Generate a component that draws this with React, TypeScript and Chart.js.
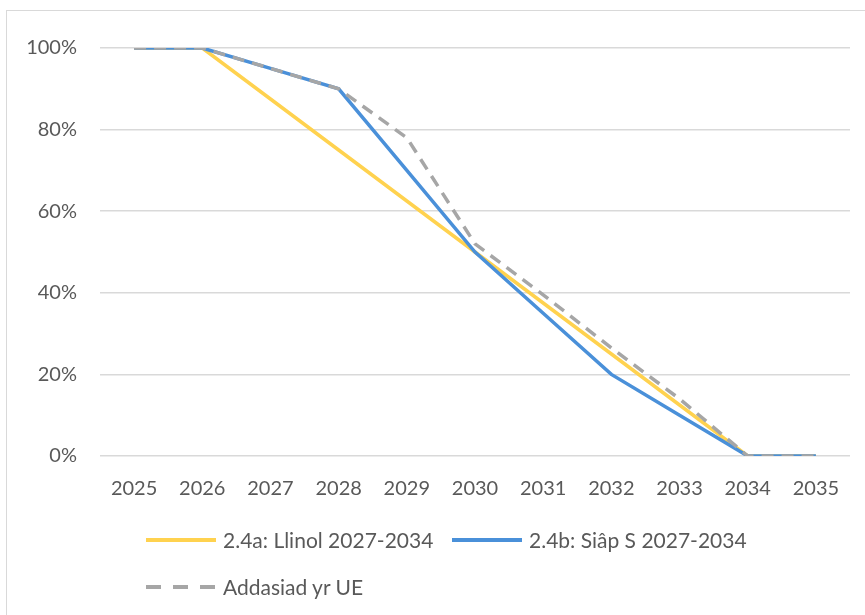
import React, { useEffect, useRef } from "react";
import { Chart, registerables } from "chart.js";

Chart.register(...registerables);

const years = ["2025", "2026", "2027", "2028", "2029", "2030", "2031", "2032", "2033", "2034", "2035"];
const linear = [100, 100, 87.5, 75, 62.5, 50, 37.5, 25, 12.5, 0, 0];
const sShape = [100, 100, 95, 90, 70, 50, 35, 20, 10, 0, 0];
const euAdjust = [100, 100, 95, 90, 78, 52, 39.5, 26.5, 14, 0, 0];
const yTicks = [0, 20, 40, 60, 80, 100];

const labelLinear = "2.4a: Llinol 2027-2034";
const labelS = "2.4b: Siâp S 2027-2034";
const labelEU = "Addasiad yr UE";

const YELLOW = "#FFD24F";
const BLUE = "#4A90D9";
const GRAY = "#A6A6A6";
const TEXT = "#595959";
const FONT = "Lato, 'Open Sans', sans-serif";
const FSIZE = 20;
const LSIZE = 21;

function LegendLine({ color, dashed }: { color: string; dashed?: boolean }) {
  return (
    <svg width={70} height={8} style={{ display: "block" }}>
      <line
        x1={0}
        y1={4}
        x2={70}
        y2={4}
        stroke={color}
        strokeWidth={4}
        strokeDasharray={dashed ? "15 12" : undefined}
      />
    </svg>
  );
}

export default function App() {
  const ref = useRef<HTMLCanvasElement | null>(null);

  useEffect(() => {
    document.body.style.margin = "0";
    const ctx = ref.current!.getContext("2d")!;
    const chart = new Chart(ctx, {
      type: "line",
      data: {
        labels: years,
        datasets: [
          { label: labelLinear, data: linear, borderColor: YELLOW, backgroundColor: YELLOW, borderWidth: 3.5, pointRadius: 0, order: 3, tension: 0 },
          { label: labelS, data: sShape, borderColor: BLUE, backgroundColor: BLUE, borderWidth: 3.5, pointRadius: 0, order: 2, tension: 0 },
          { label: labelEU, data: euAdjust, borderColor: GRAY, backgroundColor: GRAY, borderWidth: 3.5, borderDash: [12, 8], pointRadius: 0, order: 1, tension: 0 },
        ],
      },
      options: {
        animation: false,
        responsive: false,
        maintainAspectRatio: false,
        layout: { padding: { left: 0, right: 15, top: 48, bottom: 109 } },
        plugins: { legend: { display: false }, tooltip: { enabled: false } },
        scales: {
          x: {
            offset: true,
            grid: { display: false },
            border: { display: false },
            ticks: { color: TEXT, font: { family: FONT, size: FSIZE }, padding: 13, maxRotation: 0 },
            afterFit: (s: any) => { s.height = 50; },
          },
          y: {
            min: 0,
            max: 100,
            afterBuildTicks: (s: any) => { s.ticks = yTicks.map((v) => ({ value: v })); },
            grid: { color: "#D9D9D9", lineWidth: 1.5, drawTicks: false },
            border: { display: false },
            ticks: { color: TEXT, font: { family: FONT, size: FSIZE }, padding: 23, callback: (v: any) => v + "%" },
            afterFit: (s: any) => { s.width = 100; },
          },
        },
      },
    });
    return () => chart.destroy();
  }, []);

  const textStyle: React.CSSProperties = { fontFamily: FONT, fontSize: LSIZE, color: TEXT, whiteSpace: "nowrap", lineHeight: "24px" };

  return (
    <div style={{ position: "relative", width: 865, height: 615, overflow: "hidden", background: "#fff" }}>
      <div style={{ position: "absolute", left: 6, top: 10, width: 900, height: 700, border: "1.5px solid #D9D9D9" }} />
      <canvas ref={ref} width={865} height={615} style={{ position: "absolute", left: 0, top: 0 }} />
      <div style={{ position: "absolute", left: 146, top: 528, display: "flex", alignItems: "center" }}>
        <LegendLine color={YELLOW} />
        <span style={{ ...textStyle, marginLeft: 7 }}>{labelLinear}</span>
      </div>
      <div style={{ position: "absolute", left: 452, top: 528, display: "flex", alignItems: "center" }}>
        <LegendLine color={BLUE} />
        <span style={{ ...textStyle, marginLeft: 7 }}>{labelS}</span>
      </div>
      <div style={{ position: "absolute", left: 146, top: 575, display: "flex", alignItems: "center" }}>
        <LegendLine color={GRAY} dashed />
        <span style={{ ...textStyle, marginLeft: 7 }}>{labelEU}</span>
      </div>
    </div>
  );
}
